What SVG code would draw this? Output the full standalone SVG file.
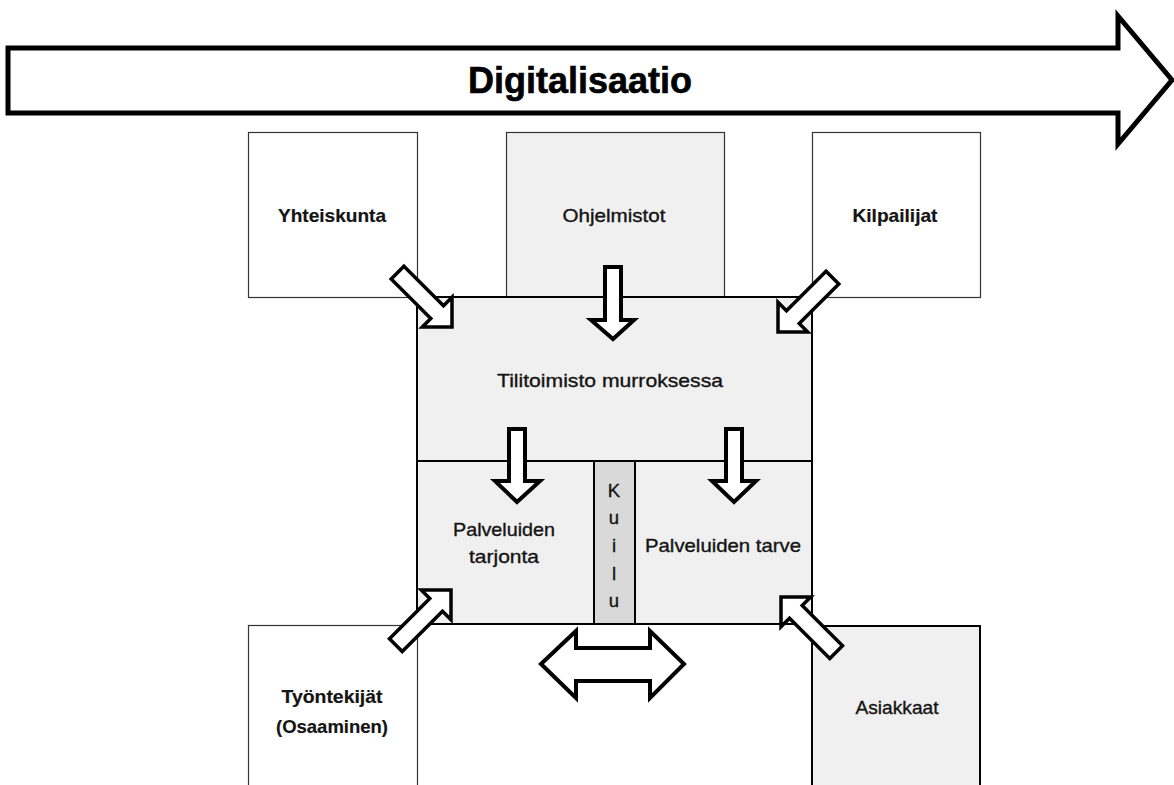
<svg xmlns="http://www.w3.org/2000/svg" width="1174" height="785" viewBox="0 0 1174 785">
<style>
.box{stroke:#333;stroke-width:1.2}
.w{fill:#fff}
.g{fill:#f0f0f0}
.k{fill:#d9d9d9}
.main{stroke:#000;stroke-width:2}
.t{font-family:"Liberation Sans",Arial,sans-serif;font-size:18.5px;fill:#141414;text-anchor:middle;stroke:#141414;stroke-width:0.35}
.b{font-weight:bold;stroke-width:0.2}
.blk{fill:#fff;stroke:#000;stroke-width:4;stroke-linejoin:miter}
.diag{fill:#fff;stroke:#000;stroke-width:3.5;stroke-linejoin:miter}
</style>
<rect width="1174" height="785" fill="#fff"/>

<g id="digitalisaatio">
<path d="M8,48 L1118,48 L1118,16 L1172,80 L1118,144 L1118,113 L8,113 Z" fill="#fff" stroke="#000" stroke-width="5" stroke-linejoin="miter"/>
<text x="580" y="93" style="font-family:'Liberation Sans',Arial,sans-serif;font-weight:bold;font-size:36px;fill:#000;stroke:#000;stroke-width:0.6;text-anchor:middle" textLength="224" lengthAdjust="spacingAndGlyphs">Digitalisaatio</text>
</g>

<g id="yhteiskunta">
<rect class="box w" x="248.5" y="132.5" width="169" height="165"/>
<text class="t b" x="332" y="222" textLength="108" lengthAdjust="spacingAndGlyphs">Yhteiskunta</text>
</g>
<g id="ohjelmistot">
<rect class="box g" x="506.5" y="132.5" width="218" height="165"/>
<text class="t" x="614" y="222" textLength="103" lengthAdjust="spacingAndGlyphs">Ohjelmistot</text>
</g>
<g id="kilpailijat">
<rect class="box w" x="812.5" y="132.5" width="168" height="165"/>
<text class="t b" x="895" y="222" textLength="85" lengthAdjust="spacingAndGlyphs">Kilpailijat</text>
</g>

<g id="tyontekijat">
<rect class="box w" x="248.5" y="625.5" width="169" height="170"/>
<text class="t b" x="332" y="703" textLength="101" lengthAdjust="spacingAndGlyphs">Työntekijät</text>
<text class="t b" x="332" y="733" textLength="112" lengthAdjust="spacingAndGlyphs">(Osaaminen)</text>
</g>
<g id="asiakkaat">
<rect class="main g" x="812" y="626" width="168" height="170"/>
<text class="t" x="897" y="714" textLength="83" lengthAdjust="spacingAndGlyphs">Asiakkaat</text>
</g>

<g id="tilitoimisto">
<rect class="main g" x="417" y="297" width="395" height="164"/>
<text class="t" x="610" y="387" textLength="226" lengthAdjust="spacingAndGlyphs">Tilitoimisto murroksessa</text>
</g>
<g id="tarjonta">
<rect class="main g" x="417" y="461" width="177" height="163"/>
<text class="t" x="504" y="536" textLength="102" lengthAdjust="spacingAndGlyphs">Palveluiden</text>
<text class="t" x="504" y="563" textLength="70" lengthAdjust="spacingAndGlyphs">tarjonta</text>
</g>
<g id="kuilu">
<rect class="main k" x="594" y="461" width="41" height="163"/>
<text class="t" x="614" y="497">K</text>
<text class="t" x="614" y="524">u</text>
<text class="t" x="614" y="552">i</text>
<text class="t" x="614" y="580">l</text>
<text class="t" x="614" y="607">u</text>
</g>
<g id="tarve">
<rect class="main g" x="635" y="461" width="177" height="163"/>
<text class="t" x="723" y="552" textLength="156" lengthAdjust="spacingAndGlyphs">Palveluiden tarve</text>
</g>

<g id="connectors">
<path class="blk" d="M605,267 L621,267 L621,320 L634,320 L613,339 L591,320 L605,320 Z"/>
<path class="blk" d="M509,429 L525,429 L525,481 L540,481 L517,502 L495,481 L509,481 Z"/>
<path class="blk" d="M726,429 L742,429 L742,481 L756,481 L734,502 L712,481 L726,481 Z"/>
<path class="diag" transform="translate(452,327) rotate(45)" d="M0,0 L-21,-21 L-21,-9 L-77,-9 L-77,9 L-21,9 L-21,21 Z"/>
<path class="diag" transform="translate(778,332) rotate(135)" d="M0,0 L-21,-21 L-21,-9 L-77,-9 L-77,9 L-21,9 L-21,21 Z"/>
<path class="diag" transform="translate(451,590) rotate(-45)" d="M0,0 L-21,-21 L-21,-9 L-78,-9 L-78,9 L-21,9 L-21,21 Z"/>
<path class="diag" transform="translate(781,597) rotate(-135)" d="M0,0 L-21,-21 L-21,-9 L-78,-9 L-78,9 L-21,9 L-21,21 Z"/>
<path class="blk" d="M541,664 L576,631 L576,648 L650,648 L650,631 L684,664 L650,698 L650,681 L576,681 L576,698 Z"/>
</g>
</svg>
